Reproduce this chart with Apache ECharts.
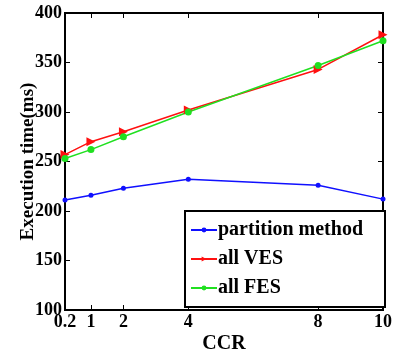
<!DOCTYPE html>
<html>
<head>
<meta charset="utf-8">
<script src="https://cdn.jsdelivr.net/npm/echarts@6/dist/echarts.min.js"></script>
<style>
  html, body { margin: 0; padding: 0; background: #fff; }
  #chart { width: 395px; height: 359px; }
</style>
</head>
<body>
<div id="chart"></div>
<script>
// CCR values on the x axis
var ccr = [0.2, 1, 2, 4, 8, 10];
// execution time (ms) per method
var partitionMethod = [211, 216, 223, 232, 226, 212];
var allVES = [257, 270, 280, 302, 343, 378];
var allFES = [253, 262, 275, 300, 347, 372];

var chart = echarts.init(document.getElementById('chart'));
var font = 'Liberation Serif';

function pairs(ys) {
  var out = [];
  for (var i = 0; i < ccr.length; i++) out.push([ccr[i], ys[i]]);
  return out;
}

var tickStyle = { show: true, inside: true, length: 5, lineStyle: { color: '#000', width: 1 } };

var option = {
  animation: false,
  grid: {
    left: 65, right: 10, top: 13, bottom: 46,
    show: true, borderColor: '#000', borderWidth: 2, backgroundColor: '#fff'
  },
  legend: {
    right: 10, top: 211,
    orient: 'vertical',
    backgroundColor: '#fff',
    borderColor: '#000',
    borderWidth: 2,
    padding: [9, 22, 9, 5],
    itemGap: 9,
    itemWidth: 26,
    itemHeight: 6,
    textStyle: { fontFamily: font, fontWeight: 'bold', fontSize: 20, color: '#000', padding: [0, 0, 0, -4] },
    data: ['partition method', 'all VES', 'all FES']
  },
  xAxis: [{
    type: 'value', min: 0.2, max: 10,
    name: 'CCR', nameLocation: 'middle', nameGap: 24, nameMoveOverlap: false,
    nameTextStyle: { fontFamily: font, fontWeight: 'bold', fontSize: 20, color: '#000' },
    splitLine: { show: false },
    axisLine: { show: false },
    axisTick: Object.assign({ customValues: ccr }, tickStyle),
    axisLabel: { customValues: ccr, fontFamily: font, fontWeight: 'bold', fontSize: 18, color: '#000', margin: 3 }
  }, {
    type: 'value', min: 0.2, max: 10, position: 'top',
    splitLine: { show: false }, axisLine: { show: false },
    axisTick: Object.assign({ customValues: ccr }, tickStyle),
    axisLabel: { show: false }
  }],
  yAxis: [{
    type: 'value', min: 100, max: 400, interval: 50,
    name: 'Execution time(ms)', nameLocation: 'middle', nameGap: 27, nameMoveOverlap: false,
    nameTextStyle: { fontFamily: font, fontWeight: 'bold', fontSize: 19, color: '#000' },
    splitLine: { show: false }, axisLine: { show: false },
    axisTick: tickStyle,
    axisLabel: { fontFamily: font, fontWeight: 'bold', fontSize: 18, color: '#000', margin: 3 }
  }, {
    type: 'value', min: 100, max: 400, interval: 50, position: 'right',
    splitLine: { show: false }, axisLine: { show: false },
    axisTick: tickStyle,
    axisLabel: { show: false }
  }],
  series: [{
    name: 'partition method', type: 'line',
    data: pairs(partitionMethod),
    symbol: 'circle', symbolSize: 5,
    lineStyle: { color: '#1010ff', width: 1.5 },
    itemStyle: { color: '#1010ff' }
  }, {
    name: 'all VES', type: 'line',
    data: pairs(allVES),
    symbol: 'triangle', symbolSize: 9, symbolRotate: -90,
    lineStyle: { color: '#ff1010', width: 1.5 },
    itemStyle: { color: '#ff1010' }
  }, {
    name: 'all FES', type: 'line',
    data: pairs(allFES),
    symbol: 'circle', symbolSize: 7,
    lineStyle: { color: '#20e020', width: 1.5 },
    itemStyle: { color: '#20e020' }
  }]
};
chart.setOption(option);
window.addEventListener('resize', function () { chart.resize(); });
</script>
</body>
</html>
